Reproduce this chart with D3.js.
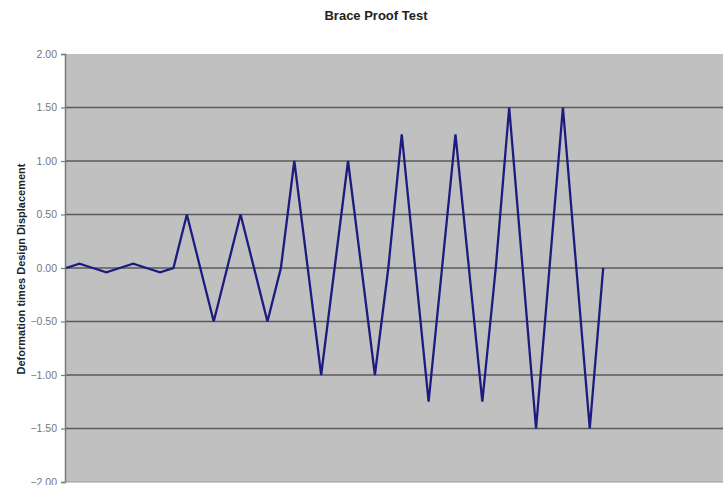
<!DOCTYPE html>
<html>
<head>
<meta charset="utf-8">
<script src="https://cdn.jsdelivr.net/npm/d3@7"></script>
<style>
  html, body { margin: 0; padding: 0; background: #fff; }
  svg { display: block; }
</style>
</head>
<body>
<div id="chart"></div>
<script>
// Loading cycle: step index and deformation as a multiple of design displacement
const steps = d3.range(41);
const deformation = [
  0, 0.04, 0, -0.04, 0, 0.04, 0, -0.04, 0,
  0.5, 0, -0.5, 0, 0.5, 0, -0.5, 0,
  1.0, 0, -1.0, 0, 1.0, 0, -1.0, 0,
  1.25, 0, -1.25, 0, 1.25, 0, -1.25, 0,
  1.5, 0, -1.5, 0, 1.5, 0, -1.5, 0
];
const yTicks = [2.0, 1.5, 1.0, 0.5, 0.0, -0.5, -1.0, -1.5, -2.0];
const titleText = "Brace Proof Test";
const yLabel = "Deformation times Design Displacement";

const W = 723, H = 485;
const plot = { left: 65, top: 54, right: 740, bottom: 482 };
const stepPx = 13.43;

const svg = d3.select("#chart").append("svg")
  .attr("width", W).attr("height", H);

const x = d3.scaleLinear()
  .domain([0, steps.length - 1])
  .range([plot.left + 1, plot.left + 1 + stepPx * (steps.length - 1)]);
const y = d3.scaleLinear().domain([-2, 2]).range([plot.bottom, plot.top]);

// plot area
svg.append("rect")
  .attr("x", plot.left).attr("y", plot.top)
  .attr("width", plot.right - plot.left).attr("height", plot.bottom - plot.top)
  .attr("fill", "#c0c0c0");

// horizontal gridlines
svg.append("g").selectAll("line")
  .data(yTicks.filter(v => v > -2 && v < 2))
  .join("line")
  .attr("x1", plot.left).attr("x2", plot.right)
  .attr("y1", d => y(d)).attr("y2", d => y(d))
  .attr("stroke", "#5a5a5a").attr("stroke-width", 1.4);

// left axis
const yAxis = d3.axisLeft(y)
  .tickValues(yTicks)
  .tickFormat(d3.format(".2f"))
  .tickSize(4)
  .tickPadding(4);
const ga = svg.append("g")
  .attr("transform", `translate(${plot.left},0)`)
  .call(yAxis);
ga.select(".domain").attr("stroke", "#7a7a7a").attr("stroke-width", 1.5);
ga.selectAll(".tick line").attr("stroke", "#7a7a7a").attr("stroke-width", 1.2);
ga.selectAll(".tick text")
  .attr("font-family", "Liberation Sans, Arial, sans-serif")
  .attr("font-size", 10.5)
  .attr("fill", "#777");

// bottom border of plot area
svg.append("line")
  .attr("x1", plot.left).attr("x2", plot.right)
  .attr("y1", plot.bottom).attr("y2", plot.bottom)
  .attr("stroke", "#9a9a9a").attr("stroke-width", 1);

// data line
const line = d3.line()
  .x((d, i) => x(steps[i]))
  .y(d => y(d));
svg.append("path")
  .datum(deformation)
  .attr("d", line)
  .attr("fill", "none")
  .attr("stroke", "#1c1c80")
  .attr("stroke-width", 2.3)
  .attr("stroke-linejoin", "miter");

// title
svg.append("text")
  .attr("x", 376).attr("y", 19.5)
  .attr("text-anchor", "middle")
  .attr("font-family", "Liberation Sans, Arial, sans-serif")
  .attr("font-weight", "bold")
  .attr("font-size", 13)
  .attr("fill", "#222")
  .text(titleText);

// y axis title
svg.append("text")
  .attr("transform", `translate(25,${(plot.top + plot.bottom) / 2 + 1}) rotate(-90)`)
  .attr("text-anchor", "middle")
  .attr("font-family", "Liberation Sans, Arial, sans-serif")
  .attr("font-weight", "bold")
  .attr("font-size", 11)
  .attr("fill", "#222")
  .text(yLabel);
</script>
</body>
</html>
